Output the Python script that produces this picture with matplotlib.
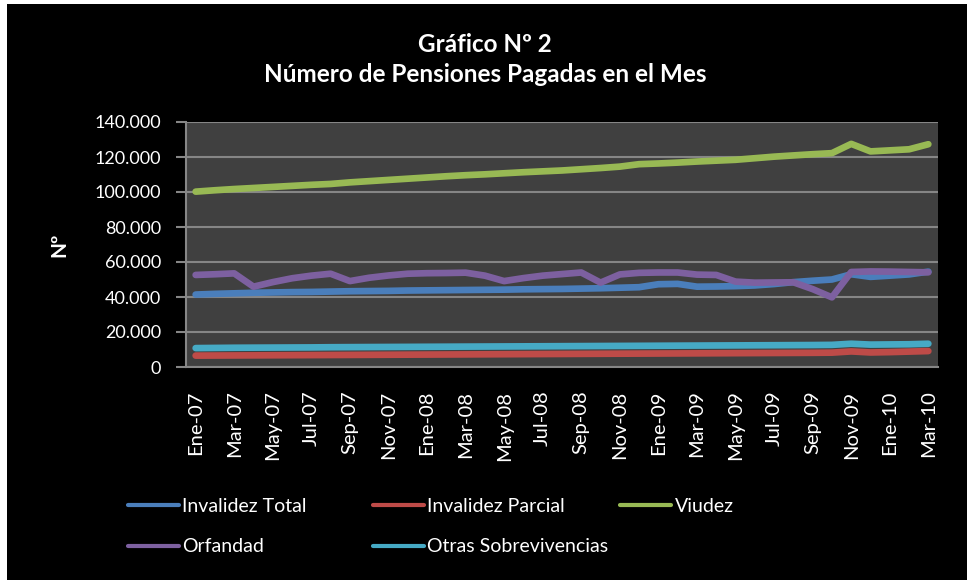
import matplotlib
matplotlib.use("Agg")
import matplotlib.pyplot as plt
from matplotlib.patches import Rectangle
from matplotlib.ticker import FuncFormatter

plt.rcParams['font.family'] = ['Lato', 'DejaVu Sans']

# months Ene-07 .. Mar-10
months = ["Ene", "Feb", "Mar", "Abr", "May", "Jun", "Jul", "Ago", "Sep", "Oct", "Nov", "Dic"]
labels = [f"{months[i % 12]}-{7 + i // 12:02d}" for i in range(39)]

# values (number of pensions)
invalidez_total = [41400, 41800, 42100, 42400, 42600, 42800, 42900, 43100, 43300, 43400,
                   43500, 43700, 43800, 43900, 44000, 44100, 44200, 44400, 44500, 44600,
                   44800, 45000, 45300, 45600, 47300, 47500, 45900, 46000, 46200, 46600,
                   47400, 48500, 49300, 50000, 53000, 51500, 52200, 52900, 54500]
invalidez_parcial = [6500, 6550, 6600, 6650, 6700, 6750, 6800, 6850, 6900, 6950,
                     7000, 7050, 7100, 7150, 7200, 7250, 7300, 7350, 7400, 7450,
                     7500, 7550, 7600, 7650, 7700, 7750, 7800, 7850, 7900, 7950,
                     8000, 8050, 8100, 8200, 8900, 8300, 8500, 8800, 9100]
viudez = [100200, 101000, 101700, 102300, 102900, 103500, 104100, 104600, 105500, 106200,
          106900, 107600, 108300, 109000, 109600, 110100, 110700, 111300, 111800, 112300,
          113000, 113700, 114500, 115900, 116300, 116800, 117400, 117900, 118400, 119300,
          120200, 120900, 121600, 122200, 127500, 123200, 123800, 124400, 127300]
orfandad = [52600, 53000, 53500, 45900, 48500, 50700, 52200, 53300, 49100, 51000,
            52300, 53300, 53600, 53700, 53900, 52200, 49100, 50800, 52200, 53100,
            54000, 48200, 52900, 53800, 54000, 54000, 52800, 52600, 48800, 48200,
            48300, 48400, 44500, 39800, 54300, 54600, 54500, 54300, 54100]
otras = [10800, 10900, 11000, 11050, 11100, 11150, 11200, 11300, 11350, 11400,
         11450, 11500, 11550, 11600, 11650, 11700, 11750, 11800, 11850, 11900,
         11950, 12000, 12050, 12100, 12150, 12200, 12250, 12300, 12350, 12400,
         12450, 12500, 12550, 12650, 13300, 12800, 12900, 13000, 13300]

series = [
    ("Invalidez Total", invalidez_total, "#4A7EBB"),
    ("Invalidez Parcial", invalidez_parcial, "#BE4B48"),
    ("Viudez", viudez, "#98B954"),
    ("Orfandad", orfandad, "#7D60A0"),
    ("Otras Sobrevivencias", otras, "#46AAC5"),
]

W, H = 969, 586
fig = plt.figure(figsize=(W / 100, H / 100), dpi=100, facecolor="white")
fig.patches.append(Rectangle((7 / W, 1 - 580 / H), 960 / W, 576 / H,
                             transform=fig.transFigure, facecolor="black",
                             edgecolor="none", zorder=-5))

ax = fig.add_axes([186 / W, 1 - 367 / H, (938 - 186) / W, (367 - 122) / H])
ax.set_zorder(2)
ax.set_facecolor("#404040")

x = list(range(len(labels)))
handles = {}
for name, vals, col in series:
    h, = ax.plot(x, vals, color=col, lw=4.8, solid_capstyle="round",
                 solid_joinstyle="round", label=name, zorder=3)
    handles[name] = h

ax.set_xlim(-0.5, len(labels) - 0.5)
ax.set_ylim(0, 140000)
ax.set_yticks(range(0, 140001, 20000))
ax.yaxis.set_major_formatter(FuncFormatter(lambda v, p: f"{int(v):,}".replace(",", ".")))
ax.set_xticks(x[::2])
ax.set_xticklabels(labels[::2], rotation=90)

ax.grid(axis="y", color="#868686", lw=1.5, zorder=1)
for s in ["top", "right"]:
    ax.spines[s].set_visible(False)
for s in ["left", "bottom"]:
    ax.spines[s].set_color("#868686")
    ax.spines[s].set_linewidth(1.5)
ax.tick_params(axis="y", colors="#868686", length=7, width=1.5, labelcolor="white",
               labelsize=13, pad=11)
ax.tick_params(axis="x", length=0, labelcolor="white", labelsize=14.5, pad=17)

ax.set_ylabel("Nº", color="white", fontsize=15, fontweight="bold", labelpad=18)

fig.text(485 / W, 1 - 44 / H, "Gráfico Nº 2", color="white", fontsize=17.5,
         fontweight="bold", ha="center", va="center")
fig.text(485 / W, 1 - 75 / H, "Número de Pensiones Pagadas en el Mes", color="white",
         fontsize=17.5, fontweight="bold", ha="center", va="center")

# legend laid out in fixed columns like the original
columns = [(128, ["Invalidez Total", "Orfandad"]),
           (373, ["Invalidez Parcial", "Otras Sobrevivencias"]),
           (620, ["Viudez"])]
for xpix, names in columns:
    leg = fig.legend([handles[n] for n in names], names, loc="upper left",
                     bbox_to_anchor=(xpix / W, 1 - 498 / H), frameon=False,
                     borderpad=0, borderaxespad=0,
                     fontsize=14, labelcolor="white", handlelength=2.6,
                     handletextpad=0.2, labelspacing=1.2)
    for lh in leg.get_lines():
        lh.set_linewidth(3)

fig.savefig("out.png", dpi=100, facecolor="white")
